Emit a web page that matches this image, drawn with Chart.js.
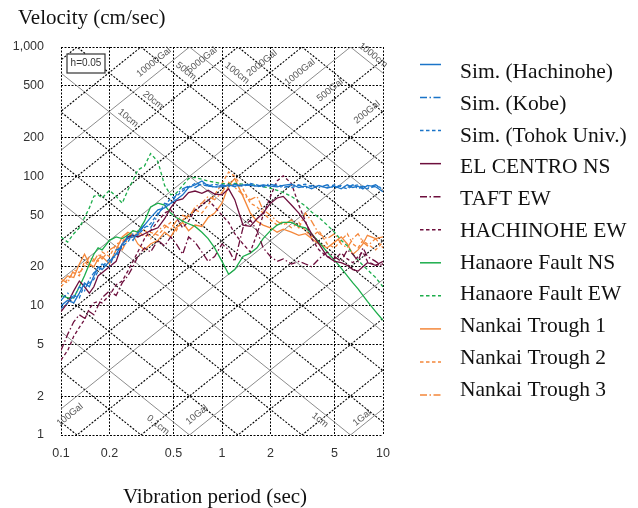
<!DOCTYPE html>
<html>
<head>
<meta charset="utf-8">
<script src="https://cdn.jsdelivr.net/npm/chart.js@4"></script>
<style>
  html, body { margin: 0; padding: 0; background: #fff; }
  canvas { display: block; }
</style>
</head>
<body>
<canvas id="spectrum" width="638" height="508"></canvas>
<script>
// ── Data ──────────────────────────────────────────────
const periods = [
  0.10, 0.11, 0.12, 0.13, 0.14, 0.15, 0.16, 0.17, 0.18,
  0.20, 0.22, 0.24, 0.26, 0.28,
  0.30, 0.33, 0.36, 0.40, 0.44, 0.48,
  0.52, 0.57, 0.62, 0.68, 0.75, 0.82, 0.90,
  1.0, 1.1, 1.2, 1.35, 1.5, 1.65, 1.8,
  2.0, 2.2, 2.4, 2.7, 3.0, 3.3, 3.6,
  4.0, 4.5, 5.0, 5.5,
  6.0, 6.5, 7.0, 7.5, 8.0, 9.0, 10.0
];

const simHachinohe = [
  10, 11, 10.5, 12.5, 15, 14, 17, 20, 19,
  22, 25, 30, 33, 34,
  36, 42, 48, 55, 57, 62,
  66, 72, 82, 86, 92, 84, 83,
  83, 85, 84, 86, 85, 84, 86,
  84, 83, 85, 87, 82, 84, 80,
  85, 81, 84, 80,
  86, 82, 84, 80, 85, 83, 76
];
const simKobe = [
  11, 12.5, 11.5, 14, 13, 16, 18, 19, 21,
  20, 27, 28, 35, 32,
  37, 42, 40, 50, 62, 60,
  72, 80, 84, 82, 88, 86, 82,
  86, 83, 87, 84, 87, 83, 85,
  87, 84, 82, 85, 86, 81, 85,
  82, 86, 81, 85,
  82, 86, 80, 84, 82, 86, 79
];
const simTohoku = [
  9.5, 10.5, 12, 11.5, 14.5, 15, 16, 18.5, 20,
  23, 24, 29, 31, 36,
  35, 40, 43, 52, 58, 68,
  70, 77, 83, 88, 86, 84, 87,
  84, 86, 83, 85, 88, 86, 83,
  85, 86, 84, 82, 85, 87, 83,
  84, 82, 86, 83,
  80, 84, 86, 82, 80, 84, 81
];
const elCentroNS = [
  9, 10.5, 13, 15.5, 14, 12.5, 14, 17, 18,
  20, 22, 30, 34, 35,
  34, 36, 38, 40, 47, 57,
  65, 67, 75, 77, 74, 78, 73,
  72, 80, 66, 42, 41, 47, 52,
  62, 68, 70, 60, 52, 44, 36,
  30, 24, 22, 21.5,
  20.5, 19, 18.5, 20, 21.5, 20.5, 22
];
const taftEW = [
  4.5, 6, 7.5, 8.5, 8, 9, 8.5, 10, 11.5,
  13, 12, 15, 17, 20,
  24, 28, 26, 32, 29, 34,
  30, 25, 34, 31, 26, 22, 24,
  30, 27, 22, 40, 46, 38, 28,
  24, 22, 23, 21, 22, 21, 20,
  23, 26, 24, 22,
  27, 25, 22, 28, 24, 22, 20
];
const hachinoheEW = [
  3.8, 4.5, 5.8, 6.8, 7.8, 9.5, 10.5, 10.8, 10.5,
  12, 14.5, 15.5, 18.5, 22,
  26, 33, 38, 45, 52, 55,
  48, 40, 45, 55, 60, 66, 58,
  50, 44, 36, 30, 26, 36, 50,
  70, 92, 101, 88, 60, 45, 33,
  27, 24, 23, 25.5,
  23, 21.5, 24, 26, 22, 20.5, 21
];
const hanaoreNS = [
  12, 11.5, 11.5, 14, 17, 21, 25, 28, 27,
  32, 34, 33, 35, 38,
  37, 45, 58, 62, 60, 52,
  48, 45, 43, 41, 37, 33, 28,
  22, 17.5, 19, 24, 25.5, 28, 33,
  38, 42, 44, 44, 41, 40, 36,
  31, 26, 22.5, 19.5,
  17, 15, 13.5, 12, 10.8, 9, 7.7
];
const hanaoreEW = [
  34, 31, 36, 40, 48, 57, 70, 72, 68,
  78, 70, 62, 78, 93,
  112, 120, 150, 130, 85, 72,
  74, 85, 96, 98, 95, 92, 90,
  88, 87, 88, 87, 86, 85, 83,
  81, 78, 75, 70, 64, 59, 53,
  48, 42, 37, 32,
  29, 25, 22.5, 20.5, 19, 16.5, 14
];
const nankai1 = [
  15, 17, 16.5, 21, 25, 21, 20, 23, 24,
  21, 27, 34, 37, 35,
  30, 27, 30, 32, 37, 34,
  40, 44, 38, 42, 41, 48, 52,
  62, 85, 96, 70, 52, 45, 42,
  40, 37, 39, 37, 35, 36, 33,
  30, 28, 31, 34,
  30, 25, 27, 30, 35, 33, 34
];
const nankai2 = [
  14, 16, 18, 17, 22, 20, 23, 22, 26,
  24, 30, 31, 36, 33,
  38, 34, 37, 35, 40, 44,
  38, 46, 50, 55, 52, 60, 72,
  88, 108, 100, 80, 62, 58, 52,
  46, 42, 45, 40, 44, 38, 34,
  38, 30, 28, 32,
  36, 30, 28, 32, 30, 27, 31
];
const nankai3 = [
  16, 15, 19, 18, 20, 24, 22, 25, 23,
  27, 29, 27, 33, 38,
  35, 39, 33, 38, 42, 39,
  45, 50, 47, 58, 62, 70, 66,
  75, 90, 82, 72, 66, 70, 55,
  50, 45, 42, 46, 40, 52, 45,
  36, 33, 36, 30,
  28, 33, 36, 31, 29, 33, 28
];

const seriesNames = [
  'Sim. (Hachinohe)', 'Sim. (Kobe)', 'Sim. (Tohok Univ.)',
  'EL CENTRO NS', 'TAFT EW', 'HACHINOHE EW',
  'Hanaore Fault NS', 'Hanaore Fault EW',
  'Nankai Trough 1', 'Nankai Trough 2', 'Nankai Trough 3'
];
const seriesValues = [
  simHachinohe, simKobe, simTohoku,
  elCentroNS, taftEW, hachinoheEW,
  hanaoreNS, hanaoreEW,
  nankai1, nankai2, nankai3
];

const xTicks = [0.1, 0.2, 0.5, 1, 2, 5, 10];
const yTicks = [1, 2, 5, 10, 20, 50, 100, 200, 500, 1000];

// tripartite grid: constant displacement (cm) and acceleration (Gal)
const dispLines = [0.02, 0.05, 0.1, 0.2, 0.5, 1, 2, 5, 10, 20, 50, 100, 200, 500, 1000];
const accLines = [1, 2, 5, 10, 20, 50, 100, 200, 500, 1000, 2000, 5000, 10000, 20000, 50000];

// [text, period, velocity, +1 = displacement line / -1 = acceleration line]
const diagLabels = [
  ['10000Gal', 0.378, 763, -1],
  ['50cm', 0.598, 650, 1],
  ['5000Gal', 0.751, 791, -1],
  ['100cm', 1.24, 627, 1],
  ['2000Gal', 1.77, 750, -1],
  ['1000Gal', 3.05, 639, -1],
  ['1000cm', 8.67, 864, 1],
  ['500Gal', 4.69, 464, -1],
  ['200Gal', 7.95, 313, -1],
  ['20cm', 0.373, 388, 1],
  ['10cm', 0.261, 282, 1],
  ['100Gal', 0.1137, 1.43, -1],
  ['0.1cm', 0.40, 1.195, 1],
  ['10Gal', 0.699, 1.43, -1],
  ['1cm', 4.06, 1.306, 1],
  ['1Gal', 7.41, 1.354, -1]
];

// ── Styles ────────────────────────────────────────────
const BLUE = '#1b74c8', MAROON = '#6d0f3d', GREEN = '#1cad4b', ORANGE = '#f4873a';
const SOLID = [], DOT = [3.5, 2.5], DASHDOT = [7, 2.5, 1.5, 2.5];
const seriesColors = [BLUE, BLUE, BLUE, MAROON, MAROON, MAROON, GREEN, GREEN, ORANGE, ORANGE, ORANGE];
const seriesDash = [SOLID, DASHDOT, DOT, SOLID, DASHDOT, DOT, SOLID, DOT, SOLID, DOT, DASHDOT];

const SERIF = '"Liberation Serif", "Times New Roman", serif';
const SANS = '"Liberation Sans", Arial, sans-serif';
const GRID_DASH = [2, 1.5];

const datasets = seriesNames.map((name, i) => ({
  label: name,
  data: periods.map((t, k) => ({ x: t, y: seriesValues[i][k] })),
  borderColor: seriesColors[i],
  borderDash: seriesDash[i],
  borderWidth: 1.3,
  pointRadius: 0,
  tension: 0,
  fill: false
}));

// ── Tripartite diagonals, labels, titles and legend ──
const isDecade = v => Math.abs(Math.log10(v) - Math.round(Math.log10(v))) < 1e-6;

const tripartite = {
  id: 'tripartite',
  beforeDatasetsDraw(chart) {
    const { ctx, chartArea: a, scales: { x, y } } = chart;
    const TWO_PI = 2 * Math.PI;
    ctx.save();
    ctx.beginPath();
    ctx.rect(a.left, a.top, a.right - a.left, a.bottom - a.top);
    ctx.clip();
    const line = (f, v) => {
      ctx.beginPath();
      ctx.setLineDash(isDecade(v) ? [] : GRID_DASH);
      ctx.strokeStyle = isDecade(v) ? '#6f6f6f' : '#000';
      ctx.lineWidth = isDecade(v) ? 0.8 : 1.1;
      ctx.moveTo(x.getPixelForValue(0.05), y.getPixelForValue(f(0.05)));
      ctx.lineTo(x.getPixelForValue(20), y.getPixelForValue(f(20)));
      ctx.stroke();
    };
    dispLines.forEach(d => line(t => TWO_PI * d / t, d));
    accLines.forEach(g => line(t => g * t / TWO_PI, g));
    ctx.restore();

    // labels along the diagonals
    const kx = x.getPixelForValue(10) - x.getPixelForValue(1);
    const ky = y.getPixelForValue(1) - y.getPixelForValue(10);
    const ang = Math.atan2(ky, kx);
    ctx.save();
    ctx.font = '9.5px ' + SANS;
    ctx.fillStyle = '#555';
    ctx.textAlign = 'center';
    ctx.textBaseline = 'middle';
    diagLabels.forEach(([txt, t, v, dir]) => {
      ctx.save();
      ctx.translate(x.getPixelForValue(t), y.getPixelForValue(v));
      ctx.rotate(dir * ang);
      ctx.fillText(txt, 0, 0);
      ctx.restore();
    });
    ctx.restore();

    // damping box
    ctx.save();
    ctx.fillStyle = '#fff';
    ctx.fillRect(a.left + 6, a.top + 7, 38, 19);
    ctx.strokeStyle = '#333';
    ctx.lineWidth = 1.2;
    ctx.strokeRect(a.left + 6, a.top + 7, 38, 19);
    ctx.font = '10px ' + SANS;
    ctx.fillStyle = '#333';
    ctx.textAlign = 'center';
    ctx.textBaseline = 'middle';
    ctx.fillText('h=0.05', a.left + 25, a.top + 16.5);
    ctx.restore();
  },
  afterDraw(chart) {
    const { ctx } = chart;
    ctx.save();
    ctx.fillStyle = '#111';
    ctx.font = '21px ' + SERIF;
    ctx.textBaseline = 'middle';
    ctx.textAlign = 'left';
    ctx.fillText('Velocity (cm/sec)', 18, 18);
    ctx.textAlign = 'center';
    ctx.fillText('Vibration period (sec)', 215, 497);

    // legend
    ctx.font = '21.5px ' + SERIF;
    chart.data.datasets.forEach((ds, i) => {
      const ly = 64.5 + i * 33.05;
      ctx.beginPath();
      ctx.setLineDash(ds.borderDash);
      ctx.strokeStyle = ds.borderColor;
      ctx.lineWidth = 1.5;
      ctx.moveTo(420, ly);
      ctx.lineTo(441, ly);
      ctx.stroke();
      ctx.setLineDash([]);
      ctx.textAlign = 'left';
      ctx.fillStyle = '#111';
      ctx.fillText(ds.label, 460, 72.5 + i * 31.75);
    });
    ctx.restore();
  }
};

new Chart(document.getElementById('spectrum'), {
  type: 'line',
  data: { datasets },
  options: {
    responsive: false,
    animation: false,
    layout: { padding: { left: 0, right: 255, top: 47, bottom: 0 } },
    plugins: { legend: { display: false }, tooltip: { enabled: false } },
    scales: {
      x: {
        type: 'logarithmic',
        min: 0.1,
        max: 10,
        afterBuildTicks: s => { s.ticks = xTicks.map(v => ({ value: v })); },
        afterFit: s => { s.height = 73; },
        ticks: {
          autoSkip: false,
          maxRotation: 0,
          padding: 11,
          color: '#333',
          font: { family: SANS, size: 12.5 },
          callback: v => String(v)
        },
        grid: { color: '#000', lineWidth: 1, drawTicks: false },
        border: { display: false, dash: GRID_DASH }
      },
      y: {
        type: 'logarithmic',
        min: 1,
        max: 1000,
        afterBuildTicks: s => { s.ticks = yTicks.map(v => ({ value: v })); },
        afterFit: s => { s.width = 61; },
        ticks: {
          autoSkip: false,
          padding: 17,
          color: '#333',
          font: { family: SANS, size: 12.5 },
          callback: v => v === 1000 ? '1,000' : String(v)
        },
        grid: { color: '#000', lineWidth: 1, drawTicks: false },
        border: { display: false, dash: GRID_DASH }
      }
    }
  },
  plugins: [tripartite]
});
</script>
</body>
</html>
